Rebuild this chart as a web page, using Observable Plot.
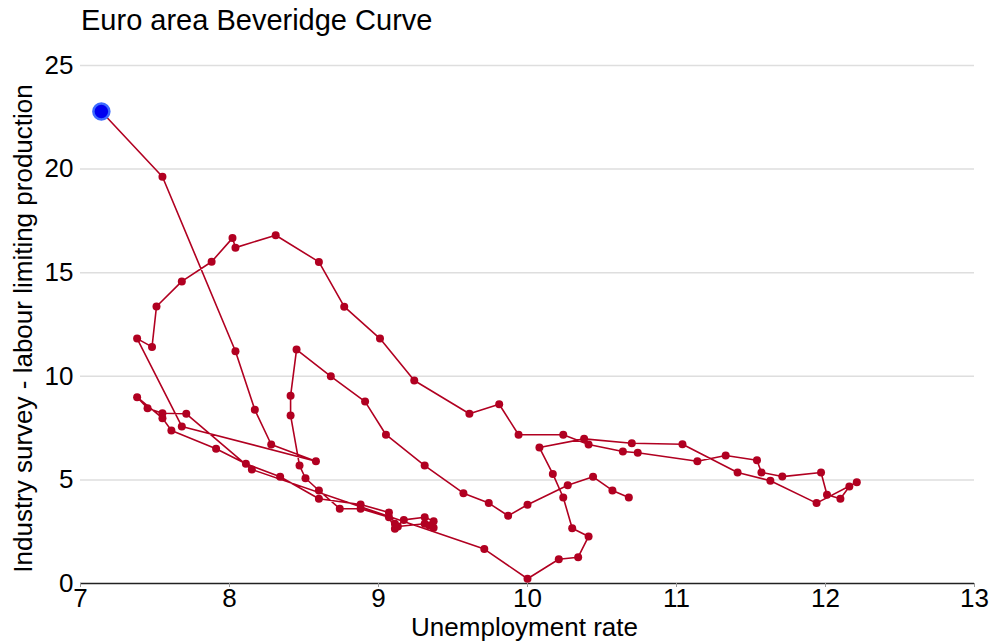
<!DOCTYPE html>
<html><head><meta charset="utf-8">
<script src="https://cdn.jsdelivr.net/npm/d3@7"></script>
<script src="https://cdn.jsdelivr.net/npm/@observablehq/plot@0.6"></script>
<style>
body{margin:0;background:#fff;font-family:"Liberation Sans",Arial,sans-serif;}
#title{height:40px;line-height:40px;padding-left:81px;font-size:29px;color:#000;white-space:nowrap;}
#chart svg{display:block;}
</style></head><body>
<div id="title">Euro area Beveridge Curve</div>
<div id="chart"></div>
<script>
const unemployment = [
  10.68,10.57,10.44,10.27,10.00,9.87,9.74,9.57,9.31,9.05,
  8.91,8.68,8.45,8.41,8.41,8.47,8.51,8.60,8.74,8.88,
  9.07,9.11,9.17,9.31,9.37,9.37,9.34,9.31,9.13,9.11,
  9.07,8.88,8.60,8.34,8.11,7.91,7.61,7.55,7.38,7.45,
  7.55,7.71,8.15,9.71,10.00,10.21,10.34,10.41,10.30,10.24,
  10.17,10.08,10.38,10.70,11.04,11.41,11.63,11.94,12.21,12.16,
  12.10,12.01,11.97,11.71,11.57,11.54,11.33,11.14,10.74,10.64,
  10.41,10.24,9.94,9.81,9.61,9.24,9.01,8.77,8.60,8.31,
  8.04,8.02,7.88,7.68,7.51,7.48,7.38,7.68,8.58,8.28,
  8.17,8.04,7.55,7.14
];
const labourLimiting = [
  4.15,4.49,5.15,4.74,3.80,3.27,3.88,4.36,5.69,7.18,
  8.78,10.00,11.29,9.06,8.11,5.69,5.08,4.49,3.61,3.61,
  3.20,2.64,3.07,3.20,3.01,2.69,2.80,2.88,2.75,2.88,
  3.43,3.81,4.09,5.15,5.78,6.50,7.38,7.98,8.99,8.46,
  8.22,8.19,5.50,1.66,0.23,1.17,1.27,2.27,2.67,4.15,
  5.29,6.56,6.98,6.77,6.72,5.36,4.96,3.88,4.89,4.68,
  4.09,4.28,5.36,5.16,5.36,5.95,6.18,5.90,6.31,6.37,
  6.71,7.18,7.18,8.65,8.19,9.80,11.82,13.36,15.52,16.81,
  16.21,16.67,15.53,14.58,13.37,11.42,11.82,7.58,5.90,6.71,
  8.38,11.21,19.63,22.78
];
const xTicks = [7, 8, 9, 10, 11, 12, 13];
const yTicks = [0, 5, 10, 15, 20, 25];
const xLabel = "Unemployment rate";
const yLabel = "Industry survey - labour limiting production";

const red = "#b10021";
const data = unemployment.map((u, i) => ({u, l: labourLimiting[i]}));

const chart = Plot.plot({
  width: 1004,
  height: 602,
  marginLeft: 80,
  marginRight: 30,
  marginTop: 25,
  marginBottom: 59,
  style: {fontFamily: "Liberation Sans, Arial, sans-serif", fontSize: "26px", color: "#000", background: "#fff"},
  x: {domain: [7, 13]},
  y: {domain: [0, 25]},
  marks: [
    Plot.gridY(yTicks.filter(t => t > 0), {stroke: "#dedede", strokeOpacity: 1, strokeWidth: 1.5}),
    Plot.ruleY([0], {stroke: "#222", strokeWidth: 1.5}),
    Plot.axisX({ticks: xTicks, tickSize: 4, stroke: "#999", tickFormat: () => "", label: null}),
    Plot.axisX({ticks: xTicks, tickSize: 0, tickPadding: 5, fontSize: 26, label: null, tickFormat: d => String(d)}),
    Plot.axisY({ticks: yTicks, tickSize: 0, tickPadding: 7, fontSize: 26, label: null, tickFormat: d => String(d)}),
    Plot.line(data, {x: "u", y: "l", stroke: red, strokeWidth: 1.6}),
    Plot.dot(data, {x: "u", y: "l", r: 4, fill: red}),
    Plot.dot(data.slice(-1), {x: "u", y: "l", r: 8, fill: "#0000f0", stroke: "#3d6bff", strokeWidth: 2.5}),
    Plot.text([xLabel], {text: d => d, frameAnchor: "bottom", lineAnchor: "top", textAnchor: "middle", dy: 34, dx: -3, fontSize: 26}),
    Plot.text([yLabel], {text: d => d, frameAnchor: "left", textAnchor: "middle", rotate: -90, dx: -57, dy: 4, fontSize: 26})
  ]
});
document.getElementById("chart").appendChild(chart);
</script>
</body></html>
